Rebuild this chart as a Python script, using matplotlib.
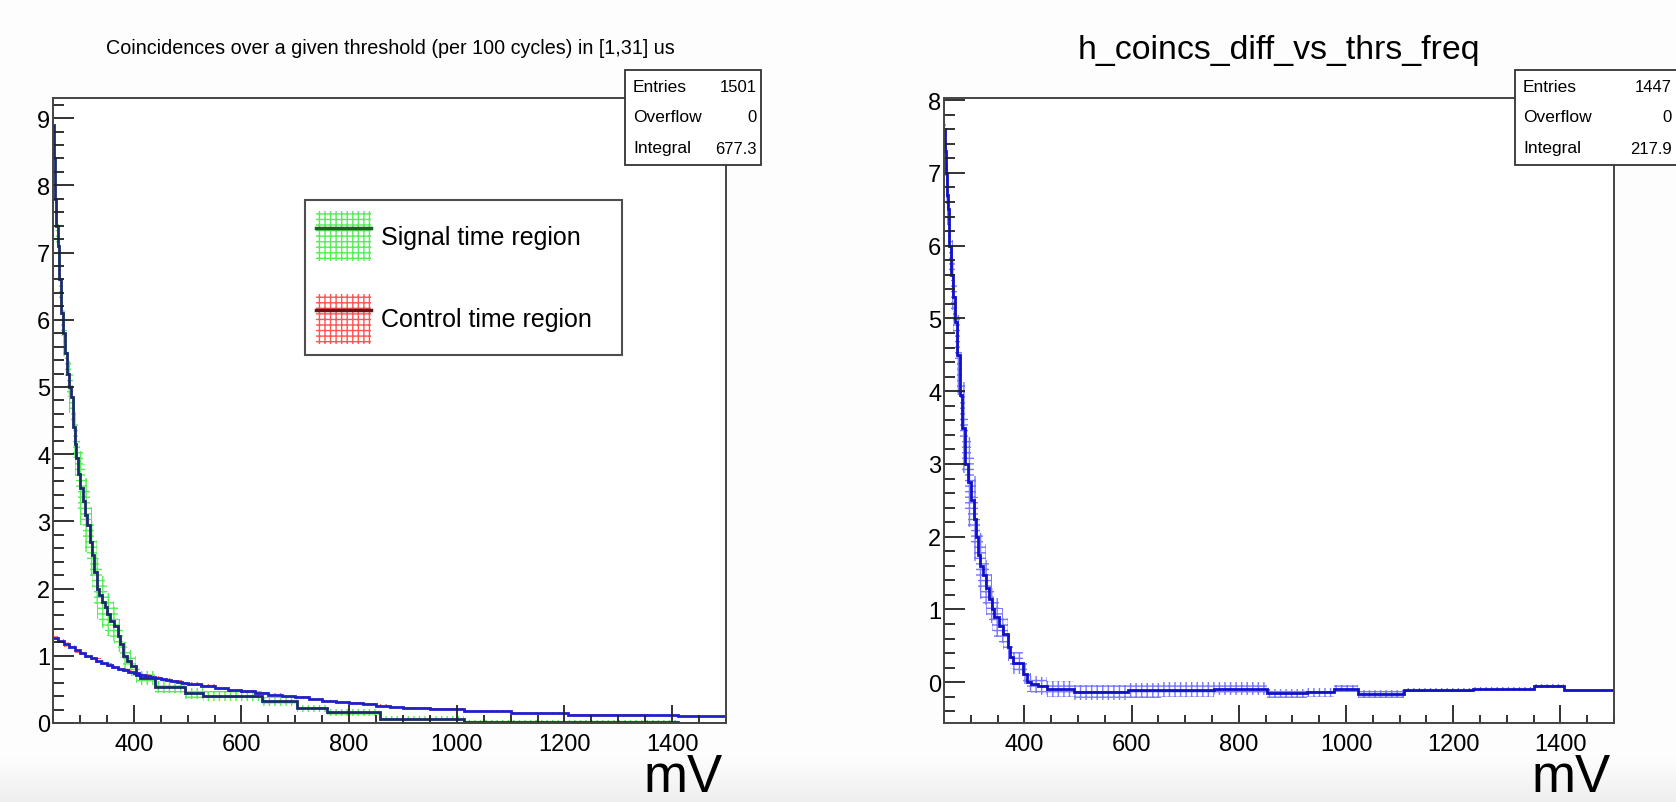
import matplotlib
matplotlib.use("Agg")
import matplotlib.pyplot as plt
import numpy as np
from matplotlib.patches import Patch, Rectangle
from matplotlib.lines import Line2D
from matplotlib.ticker import MultipleLocator

plt.rcParams["font.family"] = ["Liberation Sans", "DejaVu Sans"]
plt.rcParams["hatch.linewidth"] = 1.0

# --- signal time region (green band), bin edges in mV ---
sig_edges = [250, 252, 254, 256, 259, 262, 265, 268, 272, 276, 280, 284, 287, 290,
             293, 297, 301, 305, 310, 314, 318, 322, 326, 331, 336, 341, 346, 351,
             356, 364, 370, 374, 380, 388, 395, 404, 411, 439, 496, 529, 638, 704,
             758, 858, 1013, 1410, 1500]
sig_vals = [8.9, 8.4, 7.8, 7.4, 7.1, 6.6, 6.1, 5.8, 5.5, 5.2, 5.0, 4.85, 4.4, 4.15,
            3.95, 3.7, 3.5, 3.3, 3.1, 2.95, 2.7, 2.5, 2.25, 2.0, 1.9, 1.8, 1.72, 1.62,
            1.52, 1.45, 1.3, 1.18, 1.0, 0.92, 0.85, 0.72, 0.67, 0.54, 0.44, 0.40, 0.32,
            0.22, 0.16, 0.065, 0.022, 0.0]
sig_errs = [0.3, 0.3, 0.3, 0.3, 0.32, 0.32, 0.34, 0.34, 0.35, 0.35, 0.38, 0.4,
            0.45, 0.48, 0.5, 0.52, 0.55, 0.55, 0.55, 0.55, 0.52, 0.5, 0.48, 0.45,
            0.42, 0.38, 0.35, 0.32, 0.3, 0.28, 0.25, 0.22, 0.2, 0.17, 0.15, 0.12,
            0.11, 0.09, 0.08, 0.075, 0.07, 0.055, 0.05, 0.035, 0.02, 0.0]

# --- control time region (red band) ---
ctl_edges = [250, 260, 270, 280, 290, 300, 310, 320, 330, 340, 350, 360, 370, 380,
             390, 400, 410, 420, 430, 440, 450, 460, 470, 480, 490, 500, 525, 550,
             575, 600, 625, 650, 675, 700, 725, 750, 775, 800, 825, 850, 875, 900,
             925, 950, 1013, 1100, 1207, 1360, 1410, 1500]
ctl_vals = [1.26, 1.22, 1.17, 1.13, 1.08, 1.04, 1.0, 0.97, 0.93, 0.9, 0.87, 0.84,
            0.81, 0.79, 0.76, 0.74, 0.72, 0.7, 0.68, 0.67, 0.65, 0.64, 0.62, 0.61,
            0.59, 0.58, 0.55, 0.52, 0.49, 0.47, 0.44, 0.42, 0.40, 0.38, 0.355, 0.33,
            0.315, 0.30, 0.28, 0.26, 0.245, 0.23, 0.22, 0.21, 0.18, 0.15, 0.125,
            0.115, 0.10]
ctl_errs = [0.035, 0.035, 0.034, 0.034, 0.033, 0.033, 0.032, 0.032, 0.031, 0.031,
            0.03, 0.03, 0.029, 0.029, 0.028, 0.028, 0.027, 0.027, 0.026, 0.026,
            0.025, 0.025, 0.025, 0.024, 0.024, 0.024, 0.023, 0.022, 0.022, 0.021,
            0.02, 0.02, 0.02, 0.019, 0.018, 0.018, 0.017, 0.017, 0.016, 0.016,
            0.015, 0.015, 0.015, 0.014, 0.013, 0.012, 0.011, 0.011, 0.0]

# --- difference histogram (right panel) ---
diff_edges = [250, 252, 254, 256, 258, 260, 263, 266, 270, 274, 279, 284, 290, 295,
              301, 306, 310, 314, 318, 322, 329, 334, 340, 344, 352, 360, 369, 374,
              378, 397, 405, 412, 425, 443, 493, 593, 655, 754, 853, 928, 978, 1022,
              1109, 1237, 1350, 1406, 1500]
diff_vals = [7.6, 7.3, 7.0, 6.7, 6.5, 6.0, 5.6, 5.3, 4.95, 4.5, 3.95, 3.5, 3.0, 2.75,
             2.5, 2.25, 2.0, 1.75, 1.6, 1.48, 1.3, 1.15, 1.0, 0.89, 0.78, 0.66, 0.48,
             0.35, 0.26, 0.12, 0.0, -0.03, -0.05, -0.09, -0.14, -0.11, -0.10, -0.09,
             -0.15, -0.14, -0.09, -0.16, -0.105, -0.09, -0.05, -0.105]
diff_errs = [0.4, 0.4, 0.42, 0.42, 0.44, 0.45, 0.48, 0.5, 0.52, 0.55, 0.6, 0.62,
             0.65, 0.62, 0.6, 0.58, 0.55, 0.5, 0.45, 0.42, 0.38, 0.34, 0.3, 0.27,
             0.24, 0.22, 0.19, 0.17, 0.15, 0.14, 0.13, 0.12, 0.12, 0.11, 0.1, 0.1,
             0.1, 0.09, 0.06, 0.06, 0.05, 0.05, 0.03, 0.03, 0.03, 0.0]

stats_left = [("Entries", "1501"), ("Overflow", "0"), ("Integral", "677.3")]
stats_right = [("Entries", "1447"), ("Overflow", "0"), ("Integral", "217.9")]

W, H = 1676, 803
fig = plt.figure(figsize=(W / 100, H / 100), dpi=100)
fig.patch.set_facecolor("#fdfdfd")

# light grey strip at the bottom of the screenshot
grad = np.linspace(0, 1, 50).reshape(-1, 1)
bg = fig.add_axes([0, 0, 1, 45 / H], zorder=-5)
bg.imshow(grad, aspect="auto", cmap=matplotlib.colors.LinearSegmentedColormap.from_list(
    "g", ["#efefef", "#fdfdfd"]), origin="lower", extent=[0, 1, 0, 1])
bg.axis("off")


def px_axes(x0, x1, y0, y1):
    return fig.add_axes([x0 / W, 1 - y1 / H, (x1 - x0) / W, (y1 - y0) / H])


def style_axes(ax, ylim, ylocs):
    ax.set_xlim(250, 1500)
    ax.set_ylim(*ylim)
    ax.xaxis.set_major_locator(MultipleLocator(200))
    ax.xaxis.set_minor_locator(MultipleLocator(50))
    ax.yaxis.set_major_locator(MultipleLocator(1))
    ax.yaxis.set_minor_locator(MultipleLocator(0.2))
    ax.tick_params(which="both", direction="in", top=False, right=False,
                   labelsize=17, width=1.3, color="#222222")
    ax.tick_params(axis="y", which="major", length=15, pad=2)
    ax.tick_params(axis="y", which="minor", length=8)
    ax.tick_params(axis="x", which="major", length=13, pad=7)
    ax.tick_params(axis="x", which="minor", length=6)
    ax.set_yticks(ylocs)
    for s in ax.spines.values():
        s.set_linewidth(1.4)
        s.set_color("#444444")
    ax.set_facecolor("#ffffff")
    ax.text(0.995, -0.109, "mV", transform=ax.transAxes, ha="right", va="baseline",
            fontsize=38)


def stats_box(x0, x1, y0, y1, rows, xval):
    fig.patches.append(Rectangle((x0 / W, 1 - y1 / H), (x1 - x0) / W, (y1 - y0) / H,
                                 transform=fig.transFigure, facecolor="white",
                                 edgecolor="#333333", linewidth=1.3, zorder=10))
    for i, (lab, val) in enumerate(rows):
        yy = 1 - (87 + 31 * i) / H
        fig.text((x0 + 8) / W, yy, lab, fontsize=12.5, va="center", ha="left", zorder=11)
        fig.text(xval / W, yy, val, fontsize=12, va="center", ha="right", zorder=11)


def band(ax, vals, errs, edges, color):
    v = np.array(vals)
    e = np.array(errs)
    ax.stairs(v + e, edges, baseline=v - e, fill=True, facecolor="none",
              edgecolor=color, hatch="+++", linewidth=0)


# ---------------- left panel ----------------
ax1 = px_axes(53, 726, 99, 724)
band(ax1, sig_vals, sig_errs, sig_edges, "#55ee55")
band(ax1, ctl_vals, ctl_errs, ctl_edges, "#ff5555")
ax1.stairs(sig_vals, sig_edges, color="#1a2a6a", linewidth=2.0, baseline=None)
ax1.stairs(ctl_vals, ctl_edges, color="#2020c8", linewidth=2.0, baseline=None)
style_axes(ax1, (0, 9.3), range(0, 10))

h_sig = (Patch(facecolor="none", edgecolor="#55ee55", hatch="+++", linewidth=0),
         Line2D([], [], color="#1f5f1f", linewidth=2.5))
h_ctl = (Patch(facecolor="none", edgecolor="#ff5555", hatch="+++", linewidth=0),
         Line2D([], [], color="#6a1515", linewidth=2.5))
leg = fig.legend([h_sig, h_ctl], ["Signal time region", "Control time region"],
                 loc="upper left", mode="expand",
                 bbox_to_anchor=(305 / W, 1 - 356 / H, 317 / W, 155 / H),
                 fontsize=18, frameon=True, fancybox=False, edgecolor="#222222",
                 handlelength=2.2, handleheight=2.7, labelspacing=1.3,
                 borderpad=0.45, borderaxespad=0, handletextpad=0.4)
leg.get_frame().set_linewidth(1.5)
leg.set_zorder(12)

fig.text(390 / W, 1 - 48 / H,
         "Coincidences over a given threshold (per 100 cycles) in [1,31] us",
         ha="center", va="center", fontsize=14.2)
stats_box(625, 761, 71, 166, stats_left, 757)

# ---------------- right panel ----------------
ax2 = px_axes(944, 1614, 99, 724)
band(ax2, diff_vals, diff_errs, diff_edges, "#7777ff")
ax2.stairs(diff_vals, diff_edges, color="#1010c8", linewidth=2.0, baseline=None)
style_axes(ax2, (-0.56, 8.03), range(0, 9))

fig.text(1279 / W, 1 - 50 / H, "h_coincs_diff_vs_thrs_freq",
         ha="center", va="center", fontsize=24.4)
stats_box(1515, 1690, 71, 166, stats_right, 1672)

fig.savefig("out.png", dpi=100, facecolor=fig.get_facecolor())
